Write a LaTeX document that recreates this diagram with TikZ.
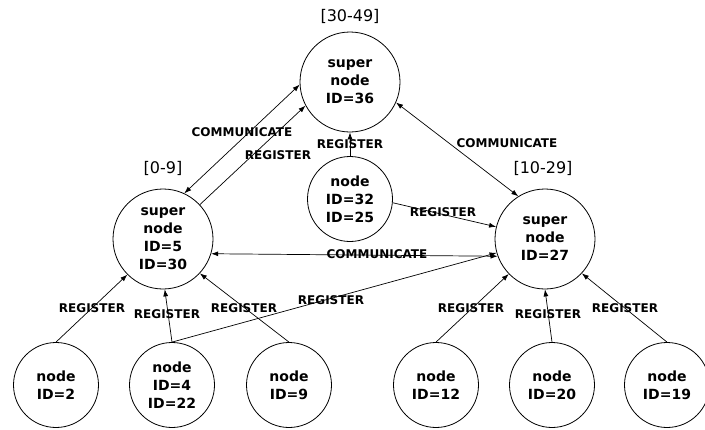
\documentclass[tikz,border=0pt]{standalone}
\usepackage{fontspec}
\setmainfont{DejaVu Sans}
\usetikzlibrary{arrows.meta}
\begin{document}
\begin{tikzpicture}[x=1pt,y=-1pt,
    peer/.style={draw,circle,line width=0.8pt,inner sep=0pt,minimum size=85pt,align=center,
      font=\fontsize{14}{18}\selectfont\bfseries},
    super/.style={peer,minimum size=100pt},
    lbl/.style={inner sep=0pt,font=\fontsize{12}{13}\selectfont\bfseries},
    rng/.style={inner sep=0pt,font=\fontsize{16}{18}\selectfont},
    reg/.style={line width=0.7pt,-{Latex[length=7pt,width=5pt]}},
    com/.style={line width=0.7pt,{Latex[length=7pt,width=5pt]}-{Latex[length=7pt,width=5pt]}}]
  \useasboundingbox (0,0) rectangle (705,429); % same margins as the page
  % super nodes and their ranges
  \node[super] (sn36) at (350,82)  {super\\node\\ID=36};
  \node[super] (sn5)  at (163,239) {super\\node\\ID=5\\ID=30};
  \node[super] (sn27) at (545,239) {super\\node\\ID=27};
  \node[rng] (r36) at (350,16)  {[30-49]};
  \node[rng] (r5)  at (163,168) {[0-9]};
  \node[rng] (r27) at (543,168) {[10-29]};
  % ordinary nodes
  \node[peer] (n32) at (350,199) {node\\ID=32\\ID=25};
  \node[peer] (n4)  at (172,385) {node\\ID=4\\ID=22};
  \foreach \id/\x in {2/56,9/289,12/436,20/552,19/667}{%
    \node[peer] (n\id) at (\x,385) {node\\ID=\id};
  }
  % links
  \draw[com] (sn5.65)   -- (sn36.183);
  \draw[reg] (sn5.43)   -- (sn36.208);
  \draw[reg] (n32.north) -- (sn36.south);
  \draw[com] (sn36.336) -- (sn27.122);
  \draw[reg] (n32.355)  -- (sn27.166);
  \draw[com] (sn5.343)  -- (sn27.200);
  \draw[reg] (n4.north) -- (sn27.196);
  \foreach \src/\dst/\ang in {n2/sn5/225,n4/sn5/272,n9/sn5/317,n12/sn27/224,n20/sn27/270,n19/sn27/317}{%
    \draw[reg] (\src.north) -- (\dst.\ang);
  }
  % link labels
  \foreach \i/\x/\y/\txt in {1/242/132/COMMUNICATE,2/278/155/REGISTER,3/350/144/REGISTER,
      4/507/143/COMMUNICATE,5/443/212/REGISTER,6/377/254/COMMUNICATE,7/331/300/REGISTER,
      8/92/308/REGISTER,9/167/314/REGISTER,10/244/308/REGISTER,
      11/471/308/REGISTER,12/548/314/REGISTER,13/625/308/REGISTER}{%
    \node[lbl] (lab\i) at (\x,\y) {\txt};
  }
\end{tikzpicture}
\end{document}
